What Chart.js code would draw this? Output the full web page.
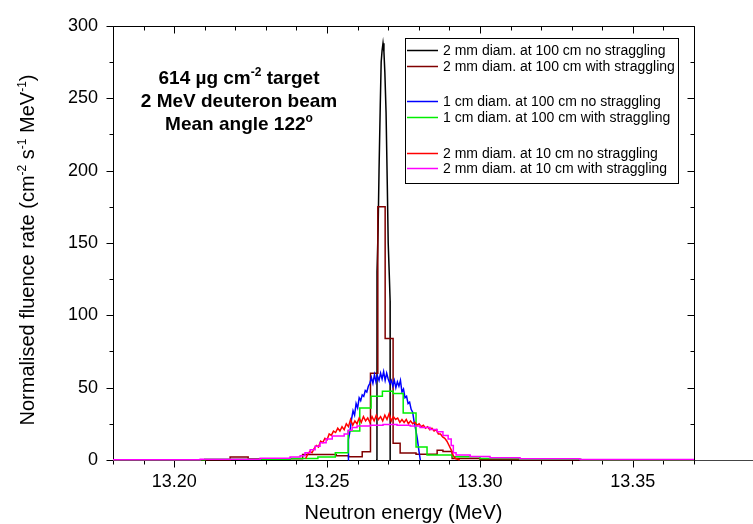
<!DOCTYPE html>
<html><head><meta charset="utf-8">
<script src="https://cdn.jsdelivr.net/npm/chart.js@4.4.1/dist/chart.umd.min.js"></script>
<style>html,body{margin:0;padding:0;background:#fff;overflow:hidden;}</style>
</head><body>
<canvas id="c" width="753" height="524"></canvas>
<script>
// ---------------- data (energies in MeV, fluence rate in cm-2 s-1 MeV-1) ----------------
const seriesLabels = [
  '2 mm diam. at 100 cm no straggling',
  '2 mm diam. at 100 cm with straggling',
  '1 cm diam. at 100 cm no straggling',
  '1 cm diam. at 100 cm with straggling',
  '2 mm diam. at 10 cm no straggling',
  '2 mm diam. at 10 cm with straggling'
];
const xTickValues = [13.20, 13.25, 13.30, 13.35];
const xTickLabels = ['13.20', '13.25', '13.30', '13.35'];
const yTickValues = [0, 50, 100, 150, 200, 250, 300];

// 2 mm at 100 cm, no straggling (fine line)
const energyBlack = [13.2660, 13.26632, 13.26634, 13.2667, 13.2670, 13.2674, 13.2677, 13.2680, 13.2683, 13.2686, 13.2689, 13.2693, 13.2697, 13.2700, 13.2704, 13.27062, 13.27064];
const fluenceBlack = [0, 0, 130, 160, 200, 245, 275, 283, 288, 282, 268, 240, 190, 150, 125, 110, 0];

// 2 mm at 100 cm, with straggling (histogram: bin edges + bin values)
const edgesBrown = [13.1800, 13.2183, 13.2242, 13.2420, 13.2530, 13.2570, 13.2615, 13.2642, 13.2666, 13.2690, 13.2716, 13.2739, 13.2791, 13.2860, 13.2879, 13.2909, 13.3000, 13.3130, 13.3700];
const valuesBrown = [0.2, 2, 0.8, 3.8, 3.0, 2.3, 5.7, 60, 175, 84, 11.6, 4.8, 3.9, 6.8, 5.8, 1.0, 0.4, 0.1];

// 1 cm at 100 cm, no straggling (fine line)
const energyBlue = [13.2569, 13.2570, 13.2575, 13.2580, 13.2585, 13.2590, 13.2595, 13.2600, 13.2605, 13.2610, 13.2615, 13.2620, 13.2625, 13.2630, 13.2635, 13.2640, 13.2645, 13.2650, 13.2655, 13.2660, 13.2665, 13.2670, 13.2675, 13.2680, 13.2685, 13.2690, 13.2695, 13.2700, 13.2705, 13.2710, 13.2715, 13.2720, 13.2725, 13.2730, 13.2735, 13.2740, 13.2745, 13.2750, 13.2755, 13.2760, 13.2765, 13.2770, 13.2775, 13.2780, 13.2785, 13.2790, 13.2795, 13.2800, 13.2805];
const fluenceBlue = [0, 14, 20, 28, 34, 31, 39, 36, 43, 41, 45, 44, 48, 47, 51, 53, 57, 53, 59, 54, 58, 55, 60, 56, 61, 55, 60, 56, 53, 55, 51, 55, 50, 54, 51, 55, 47, 49, 43, 44, 39, 40, 35, 33, 26, 21, 15, 7, 0];

// 1 cm at 100 cm, with straggling (histogram)
const edgesGreen = [13.1800, 13.2100, 13.2380, 13.2470, 13.2527, 13.2569, 13.2607, 13.2644, 13.2681, 13.2716, 13.2749, 13.2791, 13.2827, 13.2909, 13.3000, 13.3130, 13.3330, 13.3700];
const valuesGreen = [0.1, 0.5, 1, 2, 5, 20, 36, 44, 47.5, 46, 32.5, 9, 3.4, 2.3, 1, 0.5, 0.1];

// 2 mm at 10 cm, no straggling (fine line)
const energyRed = [13.2430, 13.2437, 13.2444, 13.2451, 13.2458, 13.2465, 13.2472, 13.2479, 13.2486, 13.2493, 13.2500, 13.2507, 13.2514, 13.2521, 13.2528, 13.2535, 13.2542, 13.2549, 13.2556, 13.2563, 13.2570, 13.2577, 13.2584, 13.2591, 13.2598, 13.2605, 13.2612, 13.2619, 13.2626, 13.2633, 13.2640, 13.2647, 13.2654, 13.2661, 13.2668, 13.2675, 13.2682, 13.2689, 13.2696, 13.2703, 13.2710, 13.2717, 13.2724, 13.2731, 13.2738, 13.2745, 13.2752, 13.2759, 13.2766, 13.2773, 13.2780, 13.2787, 13.2794, 13.2801, 13.2808, 13.2815, 13.2822, 13.2829, 13.2836, 13.2843, 13.2850, 13.2857, 13.2864, 13.2871, 13.2878, 13.2885, 13.2892, 13.2899, 13.2906, 13.2913, 13.2920, 13.2927, 13.2934];
const fluenceRed = [1, 4, 6, 5, 8, 10, 9, 13, 12, 15, 14, 18, 17, 20, 19, 22, 20, 23, 21, 25, 23, 28, 24, 27, 25, 29, 26, 30, 27, 29, 26, 30, 27, 31, 28, 30, 27, 31, 28, 32, 27, 30, 28, 29, 26, 28, 26, 28, 25, 27, 25, 26, 24, 25, 23, 24, 22, 23, 21, 22, 20, 21, 18, 18, 16, 15, 13, 10, 7, 3, 1, 0.5, 0];

// 2 mm at 10 cm, with straggling (histogram)
const edgesMagenta = [13.1800, 13.2085, 13.2281, 13.2379, 13.2412, 13.2428, 13.2445, 13.2461, 13.2477, 13.2497, 13.2517, 13.2556, 13.2569, 13.2582, 13.2598, 13.2641, 13.2683, 13.2729, 13.2772, 13.2804, 13.2837, 13.2860, 13.2879, 13.2896, 13.2906, 13.2913, 13.2922, 13.2968, 13.3033, 13.3131, 13.3327, 13.3700];
const valuesMagenta = [0.2, 0.6, 1.2, 2, 3, 5, 7, 9.5, 12, 14.5, 16.5, 18, 20.5, 22.5, 23.5, 24, 24.5, 24, 23.5, 22.5, 21, 19.5, 17, 14.5, 10, 5, 3.5, 2.5, 1.5, 0.8, 0.3];

// ---------------- helpers ----------------
function histPoints(edges, vals) {
  const d = vals.map((v, i) => ({ x: edges[i], y: v }));
  d.push({ x: edges[edges.length - 1], y: vals[vals.length - 1] });
  return d;
}
function linePoints(xs, ys) { return xs.map((x, i) => ({ x: x, y: ys[i] })); }

const FONT = '"Liberation Sans", Arial, Helvetica, sans-serif';
const colors = ['#000000', '#800000', '#0000ff', '#00ee00', '#ff0000', '#ff00ff'];

function richWidth(ctx, parts, F, weight) {
  let w = 0;
  for (const p of parts) {
    ctx.font = weight + ' ' + (p.sup ? Math.round(F * 0.62) : F) + 'px ' + FONT;
    w += ctx.measureText(p.t).width;
  }
  return w;
}
function drawRich(ctx, parts, cx, baseY, F, weight) {
  const w = richWidth(ctx, parts, F, weight);
  let x = cx - w / 2;
  ctx.textAlign = 'left';
  ctx.textBaseline = 'alphabetic';
  for (const p of parts) {
    ctx.font = weight + ' ' + (p.sup ? Math.round(F * 0.62) : F) + 'px ' + FONT;
    ctx.fillText(p.t, x, p.sup ? baseY - F * 0.42 : baseY);
    x += ctx.measureText(p.t).width;
  }
}

// frame + ticks (drawn below the data, like the original)
const framePlugin = {
  id: 'frame',
  beforeDatasetsDraw(chart) {
    const ctx = chart.ctx, a = chart.chartArea;
    const xs = chart.scales.x, ys = chart.scales.y;
    ctx.save();
    ctx.strokeStyle = '#000';
    ctx.lineWidth = 1;
    const L = Math.round(a.left) + 0.5, R = Math.round(a.right) + 0.5;
    const T = Math.round(a.top) + 0.5, B = Math.round(a.bottom) + 0.5;
    ctx.beginPath();
    ctx.moveTo(L, T); ctx.lineTo(R, T); ctx.lineTo(R, B); ctx.lineTo(L, B); ctx.closePath();
    ctx.stroke();
    ctx.strokeStyle = '#444';
    ctx.beginPath(); ctx.moveTo(R, B); ctx.lineTo(chart.width, B); ctx.stroke();
    ctx.strokeStyle = '#000';
    ctx.beginPath();
    for (let i = 0; i <= 19; i++) {
      const v = 13.18 + i * 0.01;
      const px = Math.round(xs.getPixelForValue(v)) + 0.5;
      const len = (i % 5 === 2) ? 7 : 4;
      ctx.moveTo(px, B); ctx.lineTo(px, B + len);
      ctx.moveTo(px, T); ctx.lineTo(px, T + len);
    }
    for (let i = 0; i <= 12; i++) {
      const v = i * 25;
      const py = Math.round(ys.getPixelForValue(v)) + 0.5;
      const len = (i % 2 === 0) ? 7 : 4;
      ctx.moveTo(L, py); ctx.lineTo(L - len, py);
      ctx.moveTo(R, py); ctx.lineTo(R - len, py);
    }
    ctx.stroke();
    ctx.restore();
  },
  afterDraw(chart) {
    const ctx = chart.ctx, a = chart.chartArea;
    ctx.save();
    ctx.fillStyle = '#000';
    drawRich(ctx, [{ t: 'Neutron energy (MeV)' }], (a.left + a.right) / 2, 519, 20, 'normal');
    ctx.translate(34, 250);
    ctx.rotate(-Math.PI / 2);
    drawRich(ctx, [{ t: 'Normalised fluence rate (cm' }, { t: '-2', sup: true }, { t: ' s' }, { t: '-1', sup: true }, { t: ' MeV' }, { t: '-1', sup: true }, { t: ')' }], 0, 0, 20, 'normal');
    ctx.restore();

    ctx.save();
    ctx.fillStyle = '#000';
    drawRich(ctx, [{ t: '614 \u00b5g cm' }, { t: '-2', sup: true }, { t: ' target' }], 239, 84, 19, 'bold');
    drawRich(ctx, [{ t: '2 MeV deuteron beam' }], 239, 107, 19, 'bold');
    drawRich(ctx, [{ t: 'Mean angle 122' }, { t: 'o', sup: true }], 239, 130, 19, 'bold');
    ctx.restore();

    ctx.save();
    const bx = 405.5, by = 38.5, bw = 273, bh = 145;
    ctx.fillStyle = '#fff';
    ctx.fillRect(bx, by, bw, bh);
    ctx.strokeStyle = '#000'; ctx.lineWidth = 1;
    ctx.strokeRect(bx, by, bw, bh);
    const rows = [50, 66, 101, 117, 153, 168];
    ctx.font = '14px ' + FONT;
    ctx.textAlign = 'left'; ctx.textBaseline = 'middle';
    chart.data.datasets.forEach((ds, i) => {
      const y = rows[i] + 0.5;
      ctx.strokeStyle = ds.borderColor; ctx.lineWidth = 1.5;
      ctx.beginPath(); ctx.moveTo(407, y); ctx.lineTo(438, y); ctx.stroke();
      ctx.fillStyle = '#000';
      ctx.fillText(ds.label, 443, rows[i] + 1);
    });
    ctx.restore();
  }
};

const datasets = [
  { label: seriesLabels[0], data: linePoints(energyBlack, fluenceBlack), borderColor: colors[0], stepped: false, order: 6 },
  { label: seriesLabels[1], data: histPoints(edgesBrown, valuesBrown), borderColor: colors[1], stepped: true, order: 5 },
  { label: seriesLabels[2], data: linePoints(energyBlue, fluenceBlue), borderColor: colors[2], stepped: false, order: 4 },
  { label: seriesLabels[3], data: histPoints(edgesGreen, valuesGreen), borderColor: colors[3], stepped: true, order: 3 },
  { label: seriesLabels[4], data: linePoints(energyRed, fluenceRed), borderColor: colors[4], stepped: false, order: 2 },
  { label: seriesLabels[5], data: histPoints(edgesMagenta, valuesMagenta), borderColor: colors[5], stepped: true, order: 1 }
].map(d => Object.assign(d, { borderWidth: 1.5, pointRadius: 0, fill: false, clip: false, tension: 0 }));

new Chart(document.getElementById('c'), {
  type: 'line',
  data: { datasets: datasets },
  options: {
    responsive: false,
    animation: false,
    devicePixelRatio: 1,
    layout: { padding: { left: 0, right: 59, top: 21, bottom: 0 } },
    plugins: { legend: { display: false }, tooltip: { enabled: false } },
    scales: {
      x: {
        type: 'linear', min: 13.18, max: 13.37,
        afterFit: s => { s.height = 64; },
        afterBuildTicks: s => { s.ticks = xTickValues.map(v => ({ value: v })); },
        ticks: {
          autoSkip: false, maxRotation: 0, padding: 11, color: '#000',
          font: { family: FONT, size: 18 },
          callback: (v, i) => xTickLabels[i]
        },
        grid: { display: false, drawTicks: false },
        border: { display: false }
      },
      y: {
        min: 0, max: 300,
        afterFit: s => { s.width = 113; },
        afterBuildTicks: s => { s.ticks = yTickValues.map(v => ({ value: v })); },
        ticks: {
          autoSkip: false, padding: 15, color: '#000',
          font: { family: FONT, size: 18 },
          callback: v => String(v)
        },
        grid: { display: false, drawTicks: false },
        border: { display: false }
      }
    }
  },
  plugins: [framePlugin]
});
</script>
</body></html>
